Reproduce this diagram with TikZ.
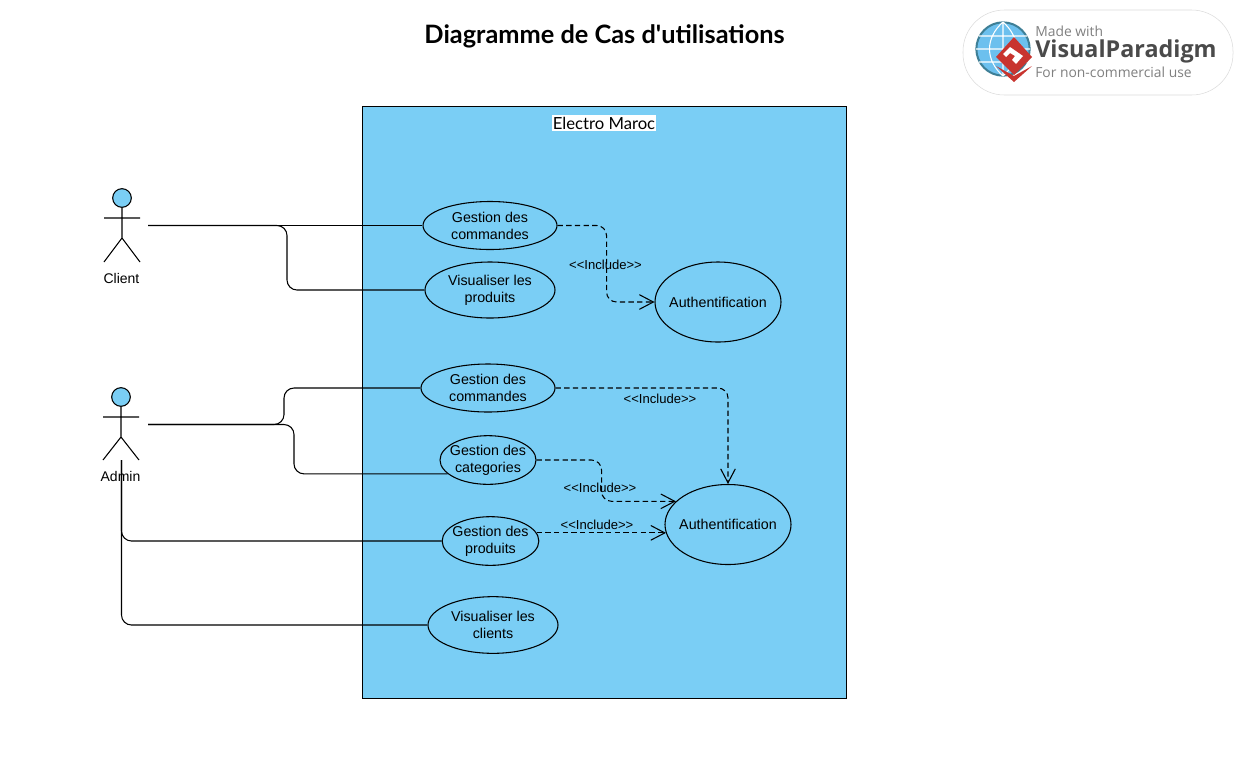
\documentclass[tikz,border=0pt]{standalone}
\usepackage{fontspec}
\setmainfont{Liberation Sans}
\newfontfamily\titlefont{Lato}
\newfontfamily\logofont{Open Sans}
\usetikzlibrary{arrows.meta}
\usetikzlibrary{shapes.geometric}

\definecolor{boxblue}{HTML}{7ACEF5}
\definecolor{globeblue}{HTML}{6CC0EE}
\definecolor{globeedge}{HTML}{3E7F96}
\definecolor{logored}{HTML}{C8342F}
\definecolor{logogray}{HTML}{4A4A4A}

\newcommand{\incltext}{<{}<Include>{}>}

\tikzset{
  usecase/.style={draw, ellipse, fill=boxblue, line width=0.8pt, inner ysep=0pt, inner xsep=-6pt, align=center, font=\fontsize{10.7}{12.6}\selectfont},
  assoc/.style={draw, line width=0.8pt, rounded corners=7.5pt},
  incl/.style={draw, line width=0.8pt, rounded corners=7.5pt, dash pattern=on 4pt off 2.5pt, -{Straight Barb[length=10.5pt, width=11pt, line width=0.8pt]}},
  incllabel/.style={font=\fontsize{9.8}{11}\selectfont, inner sep=0pt},
  actorlabel/.style={font=\fontsize{10.5}{12}\selectfont, inner sep=0pt},
  actorhead/.style={draw, circle, fill=boxblue, line width=0.8pt, inner sep=0pt, minimum size=14pt},
}

\begin{document}
\begin{tikzpicture}[x=0.75pt, y=-0.75pt]
      \useasboundingbox (0,0) rectangle (1241,772);

      \node[font=\titlefont\bfseries\fontsize{19}{23}\selectfont, inner sep=0pt] (title) at (604.5,36) {Diagramme de Cas d'utilisations};

      % logo
      \draw[black!14, fill=white, rounded corners=31pt] (963,10) rectangle (1233,95);
      \fill[globeblue, draw=globeedge, line width=1.5pt] (1003,49) circle (20pt);
      \draw[white, line width=0.8pt] (976,49) -- (1030,49) (1003,22) -- (1003,76)
        (979,36) -- (1027,36) (979,62) -- (1027,62)
        (1003,22) .. controls (985,38) and (985,60) .. (1003,76)
        (1003,22) .. controls (1021,38) and (1021,60) .. (1003,76);
      \fill[logored] (996,66) -- (1014,82) -- (1032,66) -- (1014,76) -- cycle;
      \fill[logored] (1014,37) -- (1032,57) -- (1014,75) -- (996,57) -- cycle;
      \fill[white] (1010,47) -- (1023,56) -- (1016,64) -- (1012,60) -- (1015,56) -- (1010,53) -- (1006,57) -- (1003,54) -- cycle;
      \node[font=\logofont\fontsize{10.4}{12}\selectfont, text=black!50, inner sep=0pt, anchor=west] (logoa) at (1035,31) {Made with};
      \node[font=\logofont\bfseries\fontsize{17.5}{20}\selectfont, text=logogray, inner sep=0pt, anchor=west] (logob) at (1035,51) {VisualParadigm};
      \node[font=\logofont\fontsize{10.4}{12}\selectfont, text=black!50, inner sep=0pt, anchor=west] (logoc) at (1035,72) {For non-commercial use};

      % system
      \draw[fill=boxblue, line width=0.7pt] (362,106) rectangle (846,698);
      \node[font=\titlefont\fontsize{12.5}{15}\selectfont, fill=white, inner xsep=0.5pt, inner ysep=1.5pt] (sysname) at (604,123) {Electro Maroc};

      % use cases
      \node[usecase, minimum width=100.5pt, minimum height=36pt] (cmdclient) at (490,225.5) {Gestion des\\commandes};
      \node[usecase, minimum width=97.5pt, minimum height=42pt] (visprod) at (490,290) {Visualiser les\\produits};
      \node[usecase, minimum width=94.5pt, minimum height=60pt] (authclient) at (718,302) {Authentification};
      \node[usecase, minimum width=100.5pt, minimum height=36pt] (cmdadmin) at (488,388) {Gestion des\\commandes};
      \node[usecase, minimum width=72pt, minimum height=36.5pt] (categ) at (488,460) {Gestion des\\categories};
      \node[usecase, minimum width=72.5pt, minimum height=36.5pt] (prod) at (490.5,541) {Gestion des\\produits};
      \node[usecase, minimum width=97.5pt, minimum height=42.5pt] (visclients) at (493,625) {Visualiser les\\clients};
      \node[usecase, minimum width=94.5pt, minimum height=60pt] (authadmin) at (728,524.5) {Authentification};

      % client
      \node[actorhead] (clienthead) at (122,198) {};
      \draw[line width=0.8pt] (clienthead.south) -- (122,238) -- (104,262) (122,238) -- (140,262) (104,218) -- (140,218);
      \node[actorlabel] (clientname) at (121.5,278) {Client};
      \coordinate (clientport) at (148,225.5);

      % admin
      \node[actorhead] (adminhead) at (121,397) {};
      \draw[line width=0.8pt] (adminhead.south) -- (121,437) -- (103,460) (121,437) -- (139,460) (103,417) -- (139,417);
      \node[actorlabel] (adminname) at (120.5,476) {Admin};
      \coordinate (adminport) at (148,424.5);
      \coordinate (adminfoot) at (121.5,460);

      \path[assoc] (clientport) -- (cmdclient.west);
      \path[assoc] (clientport) -- ++(139,0) |- (visprod.west);
      \path[assoc] (adminport) -- ++(136,0) |- (cmdadmin.west);
      \path[assoc] (adminport) -- ++(146,0) |- (categ.-161);
      \path[assoc] (adminfoot) |- (prod.west);
      \path[assoc] (adminfoot) |- (visclients.west);

      \path[incl] (cmdclient.east) -- ++(49,0) |- (authclient.west);
      \path[incl] (cmdadmin.east) -| (authadmin.north);
      \path[incl] (categ.east) -- ++(65,0) |- (authadmin.156);
      \path[incl] (prod.10) -- (prod.10 -| authadmin.188);

      \node[incllabel] (inclone) at (605.5,265) {\incltext};
      \node[incllabel] (incltwo) at (660,399) {\incltext};
      \node[incllabel] (inclthree) at (600,488) {\incltext};
      \node[incllabel] (inclfour) at (597,525) {\incltext};

    \end{tikzpicture}
\end{document}
